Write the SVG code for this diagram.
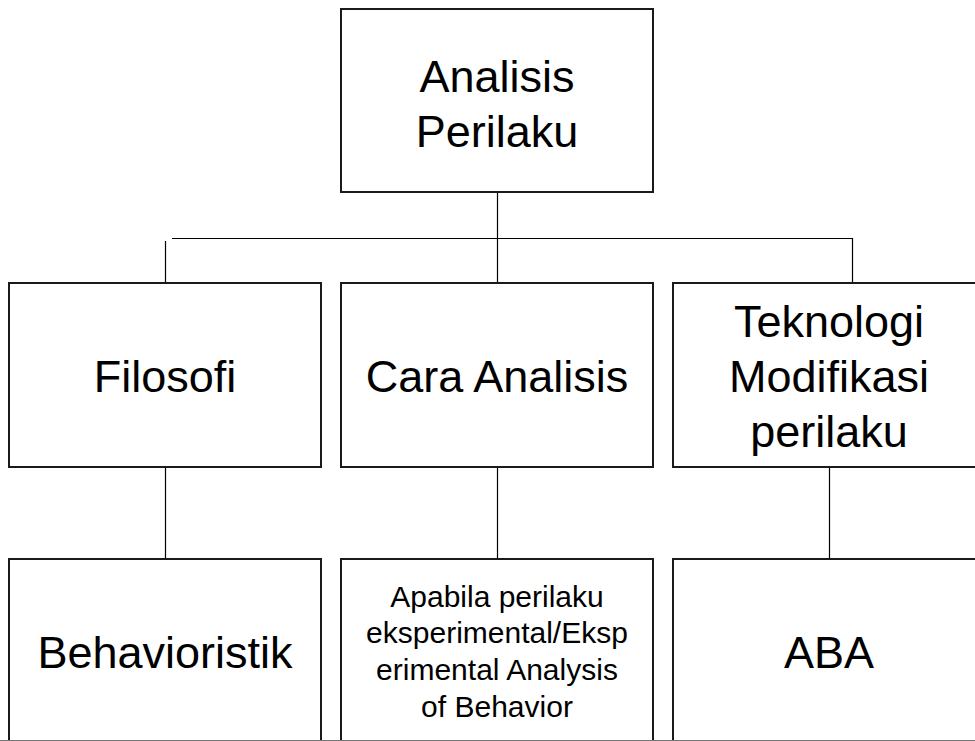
<svg xmlns="http://www.w3.org/2000/svg" width="975" height="741" viewBox="0 0 975 741">
  <style>
    .box { fill: #ffffff; stroke: #1a1a1a; stroke-width: 2; }
    .link { fill: none; stroke: #000000; stroke-width: 1.2; }
    .lbl { font-family: "Liberation Sans", Arial, Helvetica, sans-serif; font-size: 45px; fill: #000000; text-anchor: middle; }
    .small { font-size: 30px; }
  </style>
  <rect width="975" height="741" fill="#ffffff"/>

  <!-- connectors -->
  <g id="connectors">
    <line class="link" x1="497.5" y1="192" x2="497.5" y2="283"/>
    <line class="link" x1="172" y1="238.5" x2="852.5" y2="238.5"/>
    <line class="link" x1="165.5" y1="241" x2="165.5" y2="283"/>
    <line class="link" x1="852.5" y1="238" x2="852.5" y2="283"/>
    <line class="link" x1="165.5" y1="467" x2="165.5" y2="559"/>
    <line class="link" x1="497.5" y1="467" x2="497.5" y2="559"/>
    <line class="link" x1="829.5" y1="467" x2="829.5" y2="559"/>
  </g>

  <!-- root -->
  <g id="analisis-perilaku">
    <rect class="box" x="341" y="9" width="312" height="183"/>
    <text class="lbl" x="497" y="92">Analisis</text>
    <text class="lbl" x="497" y="147">Perilaku</text>
  </g>

  <!-- second level -->
  <g id="filosofi">
    <rect class="box" x="9" y="283" width="312" height="184"/>
    <text class="lbl" x="165" y="392">Filosofi</text>
  </g>
  <g id="cara-analisis">
    <rect class="box" x="341" y="283" width="312" height="184"/>
    <text class="lbl" x="497" y="392">Cara Analisis</text>
  </g>
  <g id="teknologi">
    <rect class="box" x="673" y="283" width="312" height="184"/>
    <text class="lbl" x="829" y="337">Teknologi</text>
    <text class="lbl" x="829" y="392">Modifikasi</text>
    <text class="lbl" x="829" y="447">perilaku</text>
  </g>

  <!-- third level -->
  <g id="behavioristik">
    <rect class="box" x="9" y="559" width="312" height="190"/>
    <text class="lbl" x="165" y="668">Behavioristik</text>
  </g>
  <g id="eab">
    <rect class="box" x="341" y="559" width="312" height="190"/>
    <text class="lbl small" x="497" y="607">Apabila perilaku</text>
    <text class="lbl small" x="497" y="643">eksperimental/Eksp</text>
    <text class="lbl small" x="497" y="680">erimental Analysis</text>
    <text class="lbl small" x="497" y="717">of Behavior</text>
  </g>
  <g id="aba">
    <rect class="box" x="673" y="559" width="312" height="190"/>
    <text class="lbl" x="829" y="668">ABA</text>
  </g>

  <!-- bottom edge rule -->
  <line x1="0" y1="740.5" x2="975" y2="740.5" stroke="#777777" stroke-width="1"/>
</svg>
